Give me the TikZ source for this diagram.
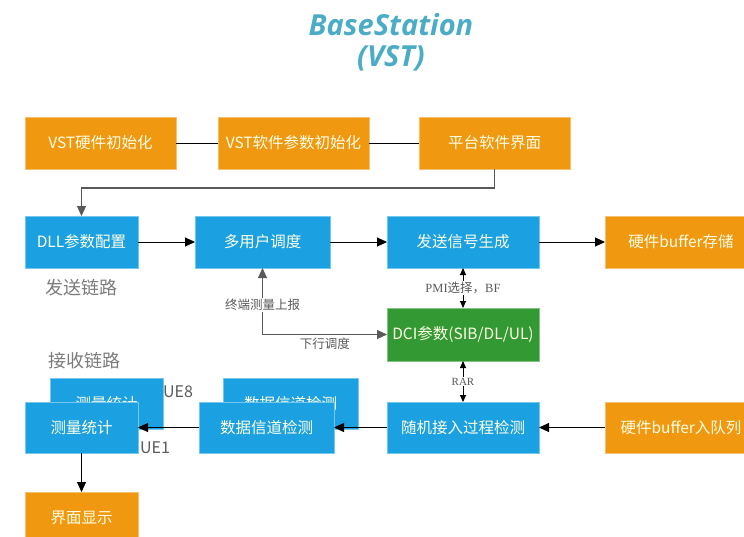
\documentclass[tikz,border=0pt]{standalone}
\usepackage{fontspec}
\setmainfont{Noto Sans CJK SC}
\newfontfamily\cjk{Noto Sans CJK SC}
\newfontfamily\titlefont{Open Sans}
\newfontfamily\lserif{Liberation Serif}
\usetikzlibrary{arrows.meta}

\definecolor{vstorange}{HTML}{F0980F}
\definecolor{vstblue}{HTML}{1BA1E2}
\definecolor{vstgreen}{HTML}{339933}
\definecolor{vsttitle}{HTML}{4BACC6}
\definecolor{vstgray}{HTML}{5A5A5A}

\begin{document}
\begin{tikzpicture}[x=1pt, y=-1pt,
  box/.style={inner sep=0pt, outer sep=0pt, line width=0.6pt,
    text=white!90!yellow, font=\cjk\fontsize{15.5}{18}\selectfont},
  hw/.style={box, fill=vstorange, draw=vstorange!60!white},
  sw/.style={box, fill=vstblue, draw=vstblue!60!white},
  dcibox/.style={box, fill=vstgreen, draw=vstgreen!60!white},
  arr/.style={line width=0.9pt, -{Triangle[length=10pt,width=9pt]}},
  dbl/.style={line width=0.9pt, {Triangle[length=7pt,width=6pt]}-{Triangle[length=7pt,width=6pt]}},
  lbl/.style={text=vstgray, font=\cjk\fontsize{12.5}{14}\selectfont, inner sep=1pt},
  side/.style={text=vstgray!80!white, font=\cjk\fontsize{18}{20}\selectfont},
  ue/.style={text=vstgray, font=\cjk\fontsize{16}{18}\selectfont}]
  \useasboundingbox (0,0) rectangle (744,536);

  % title
  \node[text=vsttitle, font=\titlefont\bfseries\itshape\fontsize{29}{32}\selectfont] (title1) at (391,25) {BaseStation};
  \node[text=vsttitle, font=\titlefont\bfseries\itshape\fontsize{29}{32}\selectfont] (title2) at (391,58) {(VST)};

  % initialisation
  \node[hw, minimum width=151pt, minimum height=52pt] (hwinit) at (100.5,143) {VST硬件初始化};
  \node[hw, minimum width=151pt, minimum height=52pt] (swinit) at (293.5,143) {VST软件参数初始化};
  \node[hw, minimum width=151pt, minimum height=52pt] (platform) at (494.5,143) {平台软件界面};

  % send chain
  \node[sw, minimum width=113pt, minimum height=52pt] (dll) at (81.5,242) {DLL参数配置};
  \node[sw, minimum width=135pt, minimum height=52pt] (sched) at (262.5,242) {多用户调度};
  \node[sw, minimum width=152pt, minimum height=52pt] (txgen) at (463,242) {发送信号生成};
  \node[hw, minimum width=152pt, minimum height=52pt] (hwstore) at (681,242) {硬件buffer存储};
  \node[dcibox, minimum width=152pt, minimum height=53pt] (dci) at (463,334.5) {DCI参数(SIB/DL/UL)};
  \node[side] (txlabel) at (81,288) {发送链路};

  % receive chain, UE8 copies behind
  \node[side] (rxlabel) at (84,361) {接收链路};
  \node[sw, minimum width=113pt, minimum height=51pt] (measback) at (106.5,403.5) {测量统计};
  \node[sw, minimum width=135pt, minimum height=51pt] (databack) at (290.5,403.5) {数据信道检测};
  \node[sw, minimum width=113pt, minimum height=51pt] (meas) at (81.5,427.5) {测量统计};
  \node[sw, minimum width=135pt, minimum height=51pt] (datadet) at (266.5,427.5) {数据信道检测};
  \node[sw, minimum width=152pt, minimum height=51pt] (racheck) at (463,427.5) {随机接入过程检测};
  \node[hw, minimum width=152pt, minimum height=51pt] (hwqueue) at (681,427.5) {硬件buffer入队列};
  \node[hw, minimum width=113pt, minimum height=52pt] (display) at (81.5,518) {界面显示};
  \node[ue] (ue8) at (178,392) {UE8};
  \node[ue] (ue1) at (155,448) {UE1};

  % connectors
  \draw[line width=0.9pt] (hwinit) -- (swinit);
  \draw[line width=0.9pt] (swinit) -- (platform);
  \draw[arr, draw=vstgray, line width=1.2pt] (platform.south) -- ++(0,19) -| (dll.north);
  \draw[arr] (dll) -- (sched);
  \draw[arr] (sched) -- (txgen);
  \draw[arr] (txgen) -- (hwstore);
  \draw[line width=0.9pt, {Triangle[length=10pt,width=9pt]}-{Triangle[length=10pt,width=9pt]}, draw=vstgray]
    (sched.south) |- node[pos=0.28, lbl, fill=white] (report) {终端测量上报}
    node[pos=0.75, lbl, below=2pt] (dlsched) {下行调度} (dci.west);
  \draw[dbl] (txgen) -- node[lbl, fill=white] (pmi) {{\lserif PMI}选择，{\lserif BF}} (dci);
  \draw[dbl] (dci) -- node[lbl, fill=white, font=\lserif\fontsize{11}{12}\selectfont] (rar) {RAR} (racheck);
  \draw[arr] (hwqueue) -- (racheck);
  \draw[arr] (racheck) -- (datadet);
  \draw[arr] (datadet) -- (meas);
  \draw[arr] (meas) -- (display);
\end{tikzpicture}
\end{document}
